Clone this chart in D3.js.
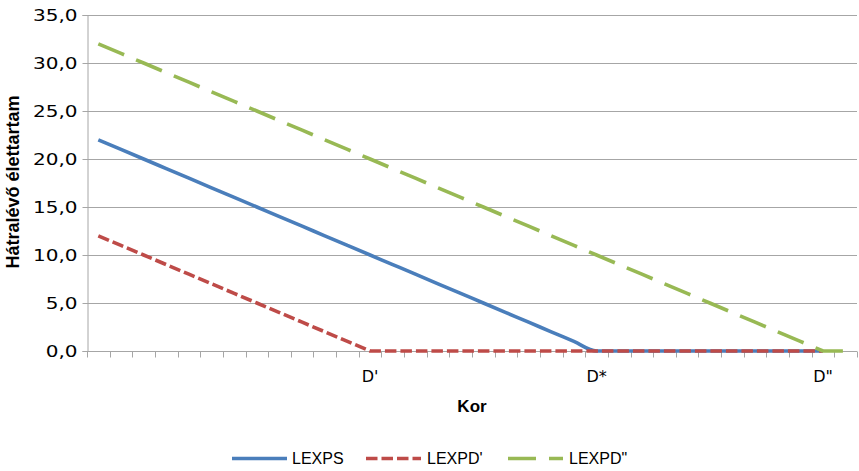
<!DOCTYPE html>
<html>
<head>
<meta charset="utf-8">
<script src="https://cdn.jsdelivr.net/npm/d3@7"></script>
<style>
  html, body { margin: 0; padding: 0; background: #fff; }
  svg { display: block; }
  text { font-family: "Liberation Sans", Arial, sans-serif; fill: #000; }
</style>
</head>
<body>
<svg id="chart" width="859" height="471"></svg>
<script>
// Age categories along the x axis (only three are labelled)
const categories = [
  "", "", "", "", "", "", "", "", "", "", "", "",
  "D'", "", "", "", "", "", "", "", "", "",
  "D*", "", "", "", "", "", "", "", "", "",
  "D\"", ""
];

// Remaining life expectancy for each series
const lexps = [22, 21, 20, 19, 18, 17, 16, 15, 14, 13, 12, 11, 10, 9, 8, 7, 6, 5, 4, 3, 2, 1,
  0, 0, 0, 0, 0, 0, 0, 0, 0, 0, 0];
const lexpdPrime = [12, 11, 10, 9, 8, 7, 6, 5, 4, 3, 2, 1, 0,
  0, 0, 0, 0, 0, 0, 0, 0, 0, 0, 0, 0, 0, 0, 0, 0, 0, 0, 0, 0];
const lexpdDouble = [32, 31, 30, 29, 28, 27, 26, 25, 24, 23, 22, 21, 20, 19, 18, 17, 16, 15,
  14, 13, 12, 11, 10, 9, 8, 7, 6, 5, 4, 3, 2, 1, 0, 0];

const yTicks = [0, 5, 10, 15, 20, 25, 30, 35];
const seriesNames = ["LEXPS", "LEXPD'", "LEXPD\""];

const series = [
  { name: seriesNames[0], values: lexps, color: "#4a7ebb", dash: null, width: 3.6, curve: d3.curveMonotoneX },
  { name: seriesNames[1], values: lexpdPrime, color: "#be4b48", dash: "11.5,4", width: 3.6, curve: d3.curveLinear },
  { name: seriesNames[2], values: lexpdDouble, color: "#98b954", dash: "28,13", width: 3.6, curve: d3.curveLinear }
];

const svg = d3.select("#chart");
const plotLeft = 87, plotRight = 857, plotTop = 15, plotBottom = 351;

const x = d3.scaleBand().domain(d3.range(categories.length)).range([plotLeft, plotRight]).padding(0);
const y = d3.scaleLinear().domain([0, 35]).range([plotBottom, plotTop]);

const hu = d3.formatLocale({ decimal: ",", thousands: " ", grouping: [3], currency: ["", " Ft"] });
const fmt = hu.format(".1f");

// Horizontal gridlines
svg.append("g")
  .selectAll("line")
  .data(yTicks.filter(d => d > 0))
  .join("line")
  .attr("x1", plotLeft).attr("x2", plotRight)
  .attr("y1", d => Math.round(y(d)) + 0.5).attr("y2", d => Math.round(y(d)) + 0.5)
  .attr("stroke", "#a6a6a6").attr("stroke-width", 1);

// Y axis
const yAxis = svg.append("g")
  .attr("transform", `translate(${plotLeft + 0.5},0)`)
  .call(d3.axisLeft(y).tickValues(yTicks).tickFormat(fmt).tickSize(5).tickPadding(5));
yAxis.select(".domain").attr("stroke", "#a6a6a6");
yAxis.selectAll(".tick line").attr("stroke", "#a6a6a6");
yAxis.selectAll(".tick text")
  .style("font-family", "'DejaVu Sans', sans-serif")
  .attr("font-size", 16)
  .attr("fill", "#000")
  .each(function () {
    // wide numerals: stretch each label horizontally
    const w = this.getComputedTextLength();
    d3.select(this).attr("textLength", w * 1.25).attr("lengthAdjust", "spacingAndGlyphs");
  });

// X axis: tick marks sit on category boundaries
const xAxisG = svg.append("g").attr("transform", `translate(0,${Math.round(plotBottom) + 0.5})`);
xAxisG.append("line")
  .attr("x1", plotLeft).attr("x2", plotRight)
  .attr("stroke", "#a6a6a6");
xAxisG.selectAll("line.tk")
  .data(d3.range(categories.length + 1))
  .join("line")
  .attr("class", "tk")
  .attr("x1", i => Math.round(plotLeft + i * x.step()) + 0.5)
  .attr("x2", i => Math.round(plotLeft + i * x.step()) + 0.5)
  .attr("y1", 0).attr("y2", 6)
  .attr("stroke", "#a6a6a6");
xAxisG.selectAll("text")
  .data(categories.map((c, i) => ({ c, i })).filter(d => d.c))
  .join("text")
  .attr("x", d => x(d.i) + x.bandwidth() / 2)
  .attr("y", 30)
  .attr("text-anchor", "middle")
  .style("font-family", "'DejaVu Sans', sans-serif")
  .attr("font-size", 16)
  .text(d => d.c);

// Axis titles
svg.append("text")
  .attr("x", 472).attr("y", 412)
  .attr("text-anchor", "middle")
  .attr("font-weight", "bold")
  .attr("font-size", 17)
  .text("Kor");

svg.append("text")
  .attr("transform", `translate(19,182) rotate(-90)`)
  .attr("text-anchor", "middle")
  .attr("font-weight", "bold")
  .attr("font-size", 18)
  .text("Hátralévő élettartam");

// Series lines
series.forEach(s => {
  const line = d3.line()
    .x((d, i) => x(i) + x.bandwidth() / 2)
    .y(d => y(d))
    .curve(s.curve);
  svg.append("path")
    .datum(s.values)
    .attr("d", line)
    .attr("fill", "none")
    .attr("stroke", s.color)
    .attr("stroke-width", s.width)
    .attr("stroke-dasharray", s.dash)
    .attr("stroke-linejoin", "round");
});

// Legend
const legendItems = [
  { x: 232, textX: 292 },
  { x: 366, textX: 427 },
  { x: 508, textX: 569 }
];
const legend = svg.append("g");
series.forEach((s, k) => {
  const g = legend.append("g");
  g.append("line")
    .attr("x1", legendItems[k].x).attr("x2", legendItems[k].x + 55)
    .attr("y1", 458.5).attr("y2", 458.5)
    .attr("stroke", s.color)
    .attr("stroke-width", s.width)
    .attr("stroke-dasharray", s.dash);
  g.append("text")
    .attr("x", legendItems[k].textX)
    .attr("y", 464)
    .attr("font-size", 16)
    .text(s.name);
});
</script>
</body>
</html>
